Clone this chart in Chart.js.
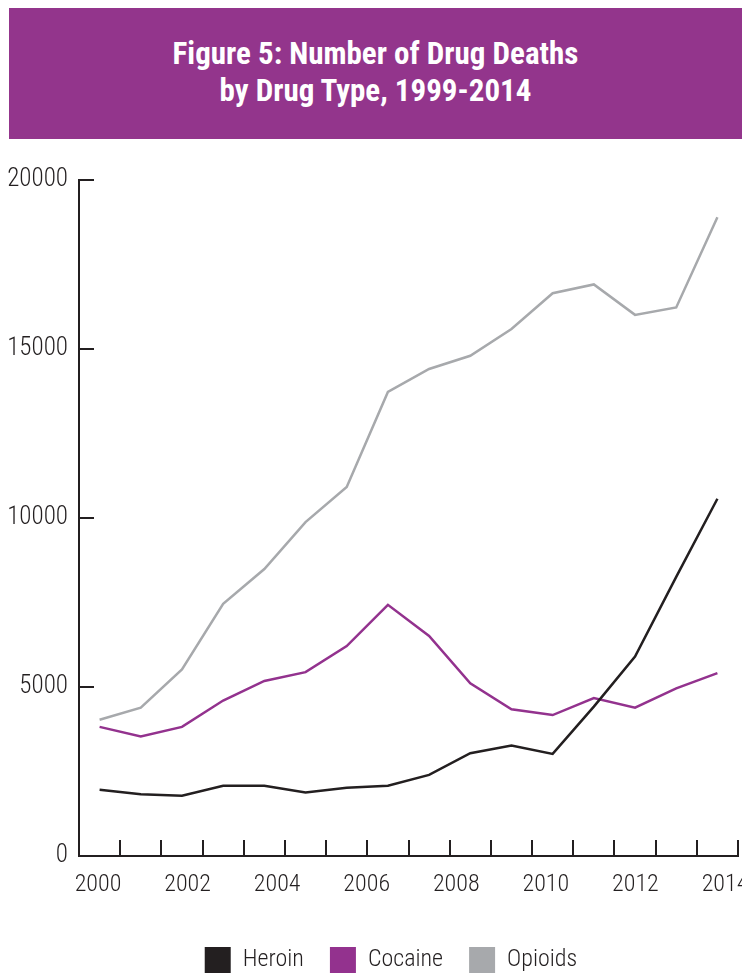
<!DOCTYPE html>
<html>
<head>
<meta charset="utf-8">
<title>Figure 5: Number of Drug Deaths by Drug Type, 1999-2014</title>
<script src="https://cdn.jsdelivr.net/npm/chart.js@4.4.1/dist/chart.umd.min.js"></script>
<style>
  html, body { margin: 0; padding: 0; background: #fff; }
  #wrap { position: relative; width: 742px; height: 977px; overflow: hidden; }
  #chart-box { position: absolute; left: 0; top: 0; width: 742px; height: 977px; }
  #banner {
    position: absolute; left: 9px; top: 8px; width: 733px; height: 131px;
    box-sizing: border-box; padding-top: 27px;
    background: #93358c; color: #fff; text-align: center;
    font: bold 31px 'Roboto Condensed', 'Liberation Sans', sans-serif;
  }
  #banner div { height: 37px; line-height: 37px; }
  #banner span { display: inline-block; white-space: nowrap; }
</style>
</head>
<body>
<div id="wrap">
  <div id="chart-box"><canvas id="chart"></canvas></div>
  <div id="banner">
    <div><span>Figure 5: Number of Drug Deaths</span></div>
    <div><span>by Drug Type, 1999-2014</span></div>
  </div>
</div>
<script>
// data (deaths per year)
var YEARS   = ['1999', '2000', '2001', '2002', '2003', '2004', '2005', '2006',
               '2007', '2008', '2009', '2010', '2011', '2012', '2013', '2014'];
var HEROIN  = [1960, 1830, 1780, 2080, 2080, 1880, 2020, 2080,
               2400, 3040, 3270, 3020, 4420, 5900, 8260, 10570];
var COCAINE = [3820, 3540, 3820, 4600, 5180, 5440, 6210, 7430,
               6510, 5110, 4340, 4170, 4670, 4390, 4960, 5410];
var OPIOIDS = [4030, 4390, 5520, 7460, 8490, 9880, 10920, 13730,
               14410, 14800, 15590, 16650, 16910, 16010, 16230, 18900];
var X_LABELS = [2000, 2002, 2004, 2006, 2008, 2010, 2012, 2014];

var INK = '#231f20';
var FONT = "'Roboto Condensed', Roboto, sans-serif";

function serie(label, data, color) {
  return {
    label: label, data: data,
    borderColor: color, backgroundColor: color,
    borderWidth: 2.5, pointRadius: 0, tension: 0, fill: false
  };
}

new Chart(document.getElementById('chart'), {
  type: 'line',
  data: {
    labels: YEARS,
    datasets: [
      serie('Heroin', HEROIN, INK),
      serie('Cocaine', COCAINE, '#93328e'),
      serie('Opioids', OPIOIDS, '#a7a9ac')
    ]
  },
  options: {
    responsive: true,
    maintainAspectRatio: false,
    animation: false,
    // negative right padding + empty right axis keeps the plot edge at 738
    // while the legend centres a little right of the page middle
    layout: { autoPadding: false, padding: { top: 180, left: 0, right: -40, bottom: -6 } },
    plugins: {
      tooltip: { enabled: false },
      legend: {
        position: 'bottom',
        labels: {
          color: INK, boxWidth: 26, boxHeight: 26, padding: 26,
          font: { family: FONT, size: 24, weight: 300 },
          generateLabels: function (chart) {
            return Chart.defaults.plugins.legend.labels.generateLabels(chart).map(function (it) {
              it.lineWidth = 0;
              return it;
            });
          }
        }
      }
    },
    scales: {
      // data axis: one slot per year, ticks at the slot edges pointing up
      x: {
        type: 'category',
        offset: true,
        grid: { offset: true, drawOnChartArea: false, drawTicks: true, tickLength: -16, color: INK, lineWidth: 2 },
        border: { color: INK, width: 2 },
        ticks: { display: false },
        afterFit: function (s) { s.height = 0; }
      },
      // label axis: the printed year labels are spread a bit wider than the data
      x2: {
        type: 'linear',
        position: 'bottom',
        min: 1999.576,
        max: 2014.29,
        grid: { display: false, drawTicks: false },
        border: { display: false },
        ticks: {
          color: INK, padding: 15, maxRotation: 0, autoSkip: false,
          font: { family: FONT, size: 24, weight: 300 },
          callback: function (v) { return String(v); }
        },
        afterBuildTicks: function (s) {
          s.ticks = X_LABELS.map(function (v) { return { value: v }; });
        },
        afterFit: function (s) {
          s.height = 65;
          s.paddingLeft = 0;   // "2014" is cut at the page edge in the original
          s.paddingRight = 0;
        }
      },
      y: {
        min: 0,
        max: 20000,
        grid: { drawOnChartArea: false, drawTicks: true, tickLength: -15, color: INK, lineWidth: 2 },
        border: { color: INK, width: 2 },
        ticks: {
          stepSize: 5000, color: INK, padding: 26,
          font: { family: FONT, size: 25, weight: 300 },
          callback: function (v) { return String(v); }
        },
        afterFit: function (s) { s.width = 79; }
      },
      yR: {
        position: 'right',
        grid: { display: false, drawTicks: false },
        border: { display: false },
        ticks: { display: false },
        afterFit: function (s) { s.width = 44; }
      }
    }
  }
});
</script>
</body>
</html>
